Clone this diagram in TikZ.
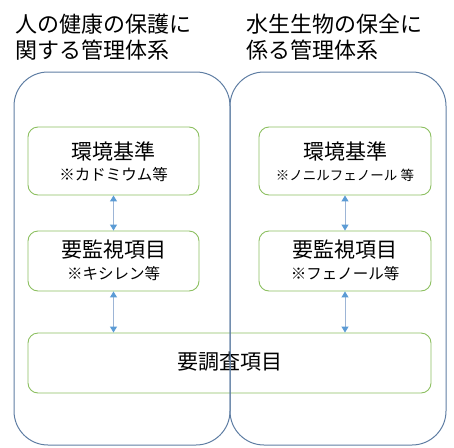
\documentclass[tikz,border=0pt]{standalone}
\usepackage{fontspec}
\setmainfont{Noto Sans CJK JP}
\usetikzlibrary{arrows.meta}
\definecolor{frameblue}{HTML}{5F7EA3}
\definecolor{boxgreen}{HTML}{8CBF60}
\definecolor{arrowblue}{HTML}{5B9BD5}
\definecolor{arrowline}{HTML}{9DB5D6}
\tikzset{
  group/.style={draw=frameblue, line width=1pt, rounded corners=34pt},
  itembox/.style={draw=boxgreen, line width=0.9pt, rounded corners=10pt, align=center, inner sep=0pt},
  link/.style={draw=arrowline, line width=1pt, {Triangle[length=6pt,width=7pt,fill=arrowblue,color=arrowblue]}-{Triangle[length=6pt,width=7pt,fill=arrowblue,color=arrowblue]}},
  title/.style={anchor=north west, align=left, inner sep=0pt, font=\fontsize{22pt}{25.5pt}\selectfont},
  big/.style={font=\fontsize{21pt}{24pt}\selectfont},
  small/.style={font=\fontsize{15.5pt}{18pt}\selectfont}
}
\begin{document}
\begin{tikzpicture}[x=1pt,y=-1pt]
\useasboundingbox (0,0) rectangle (454,447);
% titles
\node[title] (t1) at (15,14) {人の健康の保護に\\関する管理体系};
\node[title] (t2) at (246,14) {水生生物の保全に\\係る管理体系};
% boxes
\node[itembox, minimum width=171pt, minimum height=68pt] (l1) at (113.5,161) {};
\node[big] (l1a) at (113.5,151) {環境基準};
\node[small] (l1b) at (113.5,175) {※カドミウム等};
\node[itembox, minimum width=171pt, minimum height=60pt] (l2) at (113.5,261) {};
\node[big] (l2a) at (113.5,250) {要監視項目};
\node[small] (l2b) at (113.5,274) {※キシレン等};
\node[itembox, minimum width=172pt, minimum height=68pt] (r1) at (345,161) {};
\node[big] (r1a) at (345,151) {環境基準};
\node[font=\fontsize{13.5pt}{16pt}\selectfont] (r1b) at (345,175) {※ノニルフェノール 等};
\node[itembox, minimum width=172pt, minimum height=60pt] (r2) at (345,261) {};
\node[big] (r2a) at (345,250) {要監視項目};
\node[small] (r2b) at (345,274) {※フェノール等};
\node[itembox, minimum width=403pt, minimum height=60pt] (b) at (229.5,363) {};
\node[big] (ba) at (229.5,362) {要調査項目};
% links
\draw[link] (l1.south) -- (l2.north);
\draw[link] (r1.south) -- (r2.north);
\draw[link] (l2.south) -- (l2.south |- b.north);
\draw[link] (r2.south) -- (r2.south |- b.north);
% groups
\draw[group] (14,72) rectangle (230,445);
\draw[group] (230,72) rectangle (446,445);
\end{tikzpicture}
\end{document}
